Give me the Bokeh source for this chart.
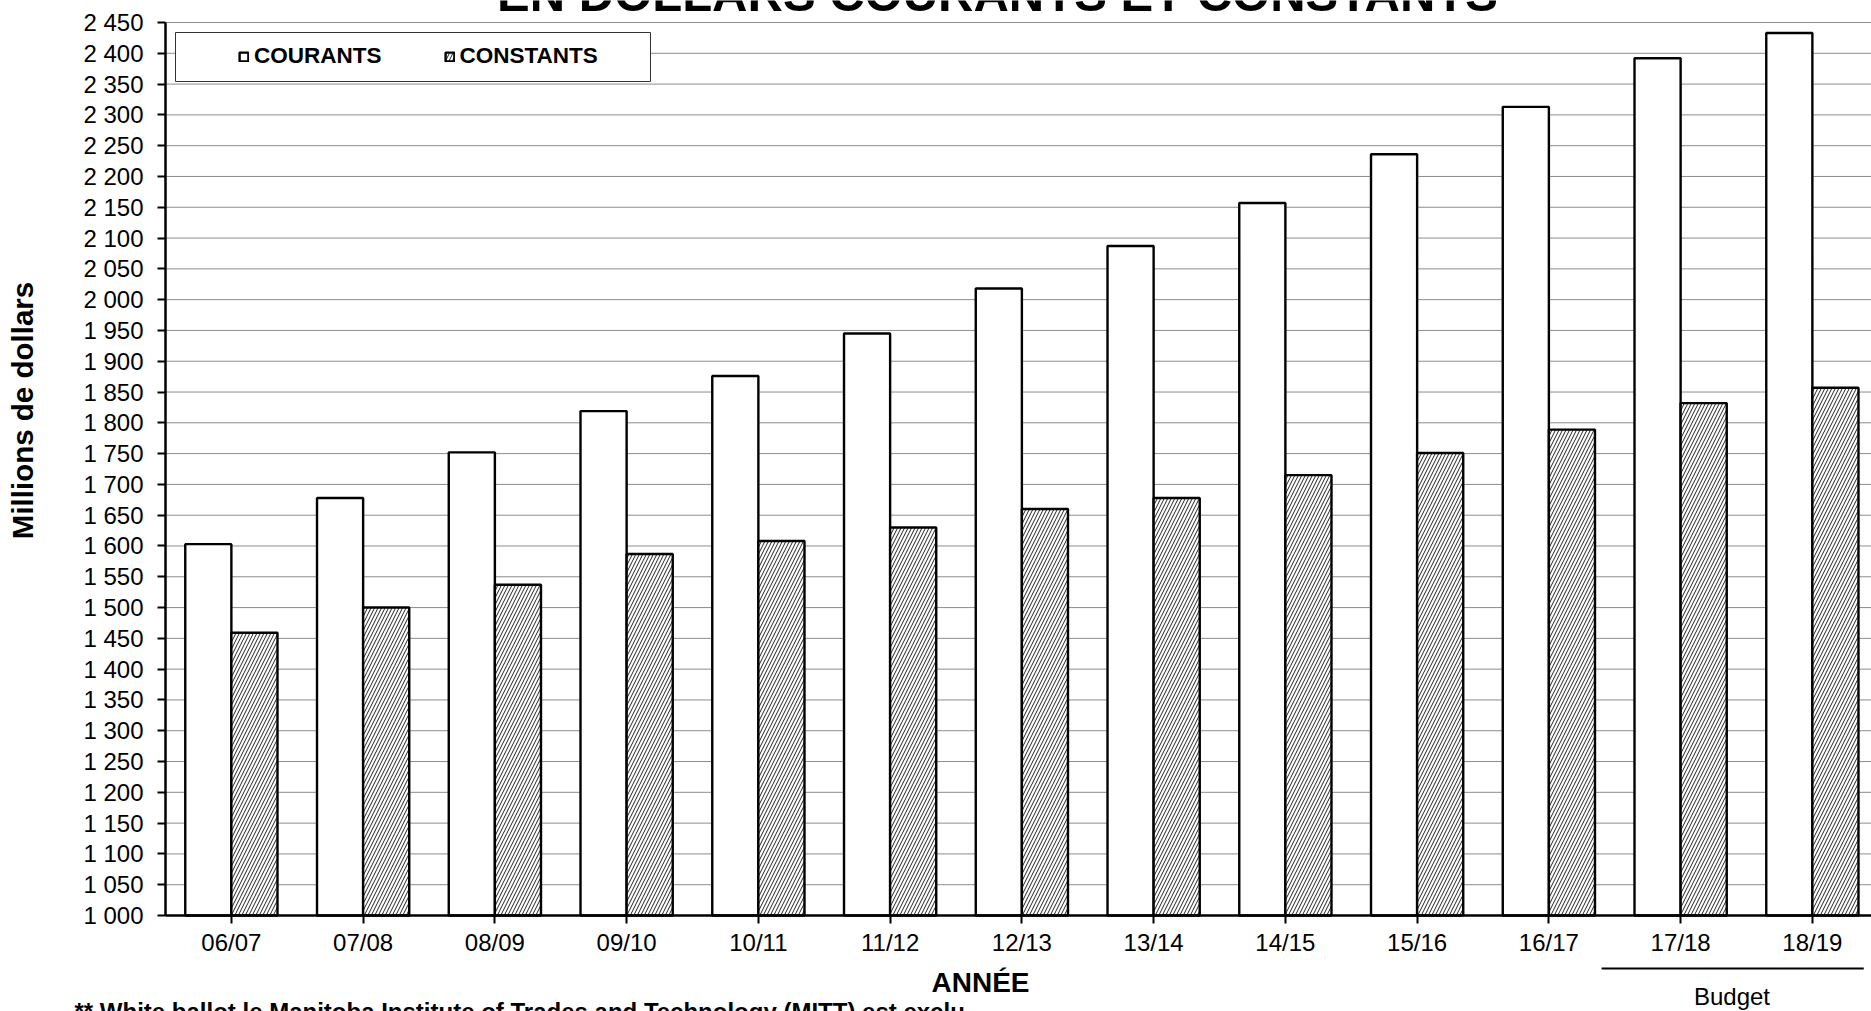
from bokeh.plotting import figure
from bokeh.models import (Range1d, FixedTicker, Legend, LegendItem, Label, BoxAnnotation,
                          ColumnDataSource)
from bokeh.transform import dodge
from bokeh.embed import file_html
from bokeh.resources import INLINE

# ---------------- data ----------------
years = ["06/07", "07/08", "08/09", "09/10", "10/11", "11/12", "12/13",
         "13/14", "14/15", "15/16", "16/17", "17/18", "18/19"]
courants = [1603, 1678, 1752, 1819, 1876, 1945, 2018, 2087, 2157, 2236, 2313, 2392, 2433]
constants = [1459, 1500, 1537, 1587, 1608, 1630, 1660, 1678, 1715, 1751, 1789, 1832, 1857]
y_ticks = list(range(1000, 2451, 50))
y_tick_labels = [f"{v:,}".replace(",", " ") for v in y_ticks]
budget_years = ["17/18", "18/19"]

title_text = "EN DOLLARS COURANTS ET CONSTANTS"
x_title = "ANNÉE"
y_title = "Millions de dollars"
budget_text = "Budget"
footnote = "** White ballot le Manitoba Institute of Trades and Technology (MITT) est exclu"

FONT = "Liberation Sans"
W, H = 1871, 1011

# ---------------- page geometry (pixels) ----------------
LEFT_PX, CAT_PX, BASE_PX = 165, 131.75, 915
UNIT_PX = 893 / (y_ticks[-1] - y_ticks[0])


def dx(px):
    return -0.5 + (px - LEFT_PX) / CAT_PX


def dy(py):
    return y_ticks[0] + (BASE_PX - py) / UNIT_PX


idx = list(range(len(years)))
src = ColumnDataSource(dict(idx=idx, year=years, courants=courants, constants=constants))

p = figure(width=W, height=H, output_backend="svg", toolbar_location=None, tools="",
           x_range=Range1d(dx(0), dx(W)), y_range=Range1d(dy(H), dy(0)), min_border=0)
p.outline_line_color = None
p.background_fill_color = "white"
p.border_fill_color = "white"
p.xgrid.visible = False
p.ygrid.visible = False

# grid lines (dotted), from the tick values
p.segment(x0=-0.5, x1=dx(W), y0=y_ticks, y1=y_ticks, line_color="#1a1a1a",
          line_dash="1 1", line_width=1, level="underlay")

BW = 0.35
r_cour = p.vbar(x=dodge("idx", -BW / 2, range=p.x_range), top="courants", bottom=y_ticks[0],
                width=BW, source=src, fill_color="white", line_color="black", line_width=2.4)
r_cons = p.vbar(x=dodge("idx", BW / 2, range=p.x_range), top="constants", bottom=y_ticks[0],
                width=BW, source=src, fill_color="white", line_color="black", line_width=2.4,
                hatch_pattern="/", hatch_color="#222222", hatch_scale=7, hatch_weight=1)

# axes (drawn at the chart's own baseline / left edge)
p.xaxis.fixed_location = y_ticks[0]
p.xaxis.bounds = (-0.5, dx(W))
p.yaxis.fixed_location = -0.5
p.yaxis.bounds = (y_ticks[0], y_ticks[-1])
p.xaxis.ticker = FixedTicker(ticks=idx)
p.xaxis.major_label_overrides = {i: y for i, y in zip(idx, years)}
p.yaxis.ticker = FixedTicker(ticks=y_ticks)
p.yaxis.major_label_overrides = {v: l for v, l in zip(y_ticks, y_tick_labels)}
for ax in (p.xaxis[0], p.yaxis[0]):
    ax.axis_line_color = "black"
    ax.axis_line_width = 2.5
    ax.major_tick_line_color = "black"
    ax.major_tick_line_width = 2
    ax.major_tick_out = 8
    ax.major_tick_in = 0
    ax.minor_tick_line_color = None
    ax.major_label_text_font = FONT
    ax.major_label_text_font_size = "24px"
    ax.major_label_text_color = "black"
p.yaxis.major_label_standoff = 14
p.xaxis.major_label_standoff = 5

# legend box and legend
box = BoxAnnotation(left=dx(175), right=dx(650), top=dy(32), bottom=dy(81),
                    fill_color="white", fill_alpha=1.0, line_color="#333333", line_width=1,
                    line_alpha=1.0)
p.add_layout(box)
legend = Legend(items=[LegendItem(label="COURANTS", renderers=[r_cour]),
                       LegendItem(label="CONSTANTS", renderers=[r_cons])],
                orientation="horizontal", location=(238, H - 53 - 16),
                glyph_width=11, glyph_height=11, label_standoff=5, spacing=62,
                padding=12, margin=0, border_line_color=None, background_fill_alpha=0,
                label_text_font=FONT, label_text_font_size="22.5px", label_text_font_style="bold",
                label_text_color="black")
p.add_layout(legend)

# texts
p.add_layout(Label(x=dx(997), y=dy(-7), text=title_text,
                   text_font=FONT, text_font_size="49px", text_font_style="bold",
                   text_align="center", text_baseline="alphabetic", text_color="black"))
p.add_layout(Label(x=dx(22), y=dy(410), text=y_title, angle=1.5708,
                   text_font=FONT, text_font_size="29.5px", text_font_style="bold",
                   text_align="center", text_baseline="middle", text_color="black"))
p.add_layout(Label(x=dx(980), y=dy(982), text=x_title,
                   text_font=FONT, text_font_size="28px", text_font_style="bold",
                   text_align="center", text_baseline="alphabetic", text_color="black"))

# budget bracket
b0 = years.index(budget_years[0])
b1 = years.index(budget_years[-1])
p.segment(x0=[b0 - 0.6], x1=[b1 + 0.39], y0=[dy(968)], y1=[dy(968)],
          line_color="black", line_width=2)
p.add_layout(Label(x=(b0 + b1) / 2 - 0.11, y=dy(996), text=budget_text,
                   text_font=FONT, text_font_size="24px",
                   text_align="center", text_baseline="alphabetic", text_color="black"))

p.add_layout(Label(x=dx(74), y=dy(997), text=footnote,
                   text_font=FONT, text_font_size="24px", text_font_style="bold",
                   text_align="left", text_baseline="top", text_color="black"))

open("out.html", "w").write(file_html(p, INLINE))
